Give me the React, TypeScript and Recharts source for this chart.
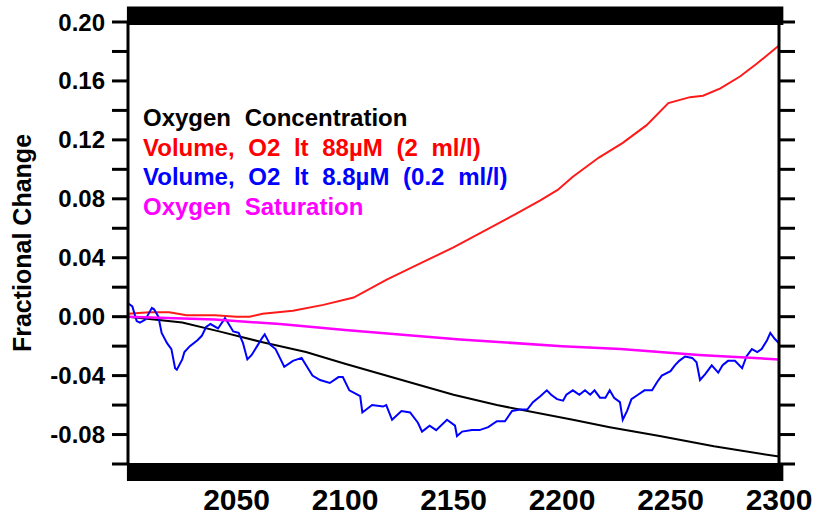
import { LineChart, Line, XAxis, YAxis, ReferenceArea, Legend } from 'recharts';

// Oxygen Concentration (black)
const concYears = [2000, 2012, 2025, 2042, 2061, 2082, 2100, 2131, 2150, 2170, 2205, 2222, 2245, 2270, 2300];
const concValues = [0.0, -0.002, -0.004, -0.01, -0.017, -0.024, -0.032, -0.045, -0.053, -0.06, -0.07, -0.075, -0.081, -0.088, -0.095];

// Volume, O2 lt 88uM (red)
const vol88Years = [2000, 2010, 2019, 2027, 2040, 2050, 2056, 2062, 2076, 2090, 2104, 2119, 2133, 2150, 2164, 2179, 2190, 2198, 2205, 2217, 2228, 2239, 2249, 2259, 2265, 2273, 2282, 2290, 2300];
const vol88Values = [0.002, 0.003, 0.003, 0.001, 0.001, 0.0, 0.0, 0.002, 0.004, 0.008, 0.013, 0.025, 0.035, 0.047, 0.058, 0.07, 0.079, 0.086, 0.095, 0.108, 0.118, 0.13, 0.145, 0.149, 0.15, 0.155, 0.163, 0.172, 0.184];

// Volume, O2 lt 8.8uM (blue)
const vol8Years = [
  2000, 2002, 2004, 2005.5, 2008, 2011, 2012, 2014, 2015.5, 2018, 2020, 2021.7, 2022.5, 2025, 2026, 2028.5,
  2032, 2034, 2036, 2038, 2041.5, 2044.7, 2046, 2048.5, 2051, 2053, 2055, 2057, 2059.5, 2062, 2063, 2065.5,
  2068, 2070, 2072, 2076, 2080, 2082.5, 2085, 2088.5, 2093, 2097, 2099, 2102, 2107, 2108, 2112.5, 2117.5,
  2119, 2121.7, 2126, 2130, 2133.6, 2135.5, 2139, 2142, 2147, 2150.7, 2151.6, 2154, 2158.5, 2162, 2166, 2170,
  2173.7, 2177, 2180.6, 2184, 2186.6, 2190, 2193, 2195, 2197.7, 2200.5, 2202, 2205, 2208, 2210.6, 2213, 2215,
  2217.5, 2220, 2222, 2224, 2226.7, 2228, 2230, 2232, 2235, 2238, 2241.5, 2244, 2246, 2250, 2252, 2254,
  2256.7, 2260, 2262, 2263.6, 2266, 2269, 2272, 2274, 2276.5, 2279.7, 2283, 2285, 2287.5, 2290, 2292, 2294.5,
  2296, 2298, 2300,
];
const vol8Values = [
  0.009, 0.007, -0.003, -0.004, -0.002, 0.006, 0.005, 0.0, -0.011, -0.018, -0.022, -0.035, -0.036, -0.029, -0.024, -0.02,
  -0.016, -0.013, -0.007, -0.005, -0.008, -0.001, -0.004, -0.01, -0.011, -0.018, -0.029, -0.026, -0.02, -0.014, -0.012, -0.019,
  -0.022, -0.028, -0.034, -0.03, -0.028, -0.034, -0.04, -0.043, -0.045, -0.041, -0.041, -0.05, -0.054, -0.065, -0.06, -0.061,
  -0.06, -0.07, -0.064, -0.065, -0.072, -0.078, -0.074, -0.077, -0.07, -0.074, -0.081, -0.078, -0.077, -0.077, -0.075, -0.071,
  -0.071, -0.064, -0.063, -0.063, -0.058, -0.054, -0.05, -0.053, -0.056, -0.057, -0.053, -0.05, -0.053, -0.05, -0.053, -0.05,
  -0.055, -0.055, -0.05, -0.055, -0.058, -0.07, -0.064, -0.056, -0.053, -0.05, -0.05, -0.044, -0.04, -0.037, -0.033, -0.03,
  -0.027, -0.028, -0.031, -0.043, -0.039, -0.033, -0.038, -0.033, -0.03, -0.03, -0.035, -0.027, -0.022, -0.024, -0.022, -0.016,
  -0.011, -0.015, -0.018,
];

// Oxygen Saturation (magenta)
const satYears = [2000, 2040, 2070, 2100, 2153, 2200, 2227, 2263, 2300];
const satValues = [0.0, -0.002, -0.005, -0.009, -0.0155, -0.02, -0.022, -0.026, -0.029];

const xTicks = [2050, 2100, 2150, 2200, 2250, 2300];
const yTicks = [-0.1, -0.08, -0.06, -0.04, -0.02, 0, 0.02, 0.04, 0.06, 0.08, 0.1, 0.12, 0.14, 0.16, 0.18, 0.2];

const legendItems = [
  { label: 'Oxygen Concentration', color: '#000000' },
  { label: 'Volume, O2 lt 88µM (2 ml/l)', color: '#ff0000' },
  { label: 'Volume, O2 lt 8.8µM (0.2 ml/l)', color: '#0000ff' },
  { label: 'Oxygen Saturation', color: '#ff00ff' },
];

const toPts = (years: number[], values: number[]) => years.map((year, i) => ({ year, value: values[i] }));

const FONT = '"Liberation Sans", Arial, sans-serif';

function YTitle(props: any) {
  const vb = props.viewBox || { x: 0, y: 22, width: 128, height: 442 };
  const cx = vb.x + 31;
  const cy = vb.y + vb.height / 2;
  return (
    <text
      x={cx}
      y={cy}
      transform={`rotate(-90 ${cx} ${cy})`}
      textAnchor="middle"
      fontFamily={FONT}
      fontWeight="bold"
      fontSize={25}
      fill="#000"
    >
      Fractional Change
    </text>
  );
}

function LegendBox() {
  return (
    <div style={{ fontFamily: FONT, fontWeight: 'bold', fontSize: 24, lineHeight: '29.7px', wordSpacing: 7, whiteSpace: 'nowrap' }}>
      {legendItems.map(it => (
        <div key={it.label} style={{ color: it.color }}>{it.label}</div>
      ))}
    </div>
  );
}

export default function App() {
  const axisStroke = { stroke: '#000', strokeWidth: 3 };
  return (
    <div style={{ position: 'absolute', left: 0, top: 0, width: 815, height: 521, background: '#fff' }}>
      <LineChart width={815} height={521} margin={{ top: 22, right: 0, bottom: 0, left: 0 }}>
        <XAxis
          type="number"
          dataKey="year"
          domain={[2000, 2300]}
          ticks={xTicks}
          interval={0}
          allowDataOverflow
          axisLine={false}
          tickLine={false}
          tickSize={0}
          tickMargin={25}
          height={57}
          tick={{ fill: '#000', fontSize: 30, fontWeight: 'bold', fontFamily: FONT }}
        />
        <YAxis
          yAxisId="left"
          type="number"
          domain={[-0.1, 0.2]}
          ticks={yTicks}
          interval={0}
          allowDataOverflow
          width={128}
          axisLine={axisStroke}
          tickLine={axisStroke}
          tickSize={16}
          tickMargin={7}
          tick={{ fill: '#000', fontSize: 24, fontWeight: 'bold', fontFamily: FONT }}
          tickFormatter={(v: number) => (Math.round(v * 100) % 4 === 0 ? v.toFixed(2) : '')}
          label={{ content: YTitle }}
        />
        <YAxis
          yAxisId="right"
          orientation="right"
          type="number"
          domain={[-0.1, 0.2]}
          ticks={yTicks}
          interval={0}
          allowDataOverflow
          width={36}
          axisLine={axisStroke}
          tickLine={axisStroke}
          tickSize={16}
          tickFormatter={() => ''}
        />
        <ReferenceArea yAxisId="left" x1={1999.5} x2={2302} y1={0.198} y2={0.2105} fill="#000" fillOpacity={1} stroke="none" ifOverflow="visible" />
        <ReferenceArea yAxisId="left" x1={1999.5} x2={2302} y1={-0.0993} y2={-0.1115} fill="#000" fillOpacity={1} stroke="none" ifOverflow="visible" />
        <Legend
          layout="vertical"
          align="center"
          verticalAlign="middle"
          content={() => <LegendBox />}
          wrapperStyle={{ left: 143, top: 103, width: 'auto' }}
        />
        <Line yAxisId="left" data={toPts(concYears, concValues)} dataKey="value" type="linear" stroke="#000000" strokeWidth={2} dot={false} isAnimationActive={false} />
        <Line yAxisId="left" data={toPts(vol88Years, vol88Values)} dataKey="value" type="linear" stroke="#ff1a1a" strokeWidth={2} dot={false} isAnimationActive={false} />
        <Line yAxisId="left" data={toPts(vol8Years, vol8Values)} dataKey="value" type="linear" stroke="#0000ff" strokeWidth={2} dot={false} isAnimationActive={false} />
        <Line yAxisId="left" data={toPts(satYears, satValues)} dataKey="value" type="linear" stroke="#ff00ff" strokeWidth={2.5} dot={false} isAnimationActive={false} />
      </LineChart>
    </div>
  );
}
